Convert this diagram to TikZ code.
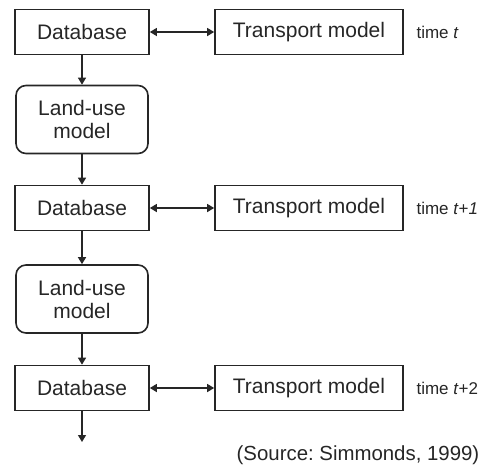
\documentclass[tikz,border=0pt]{standalone}
\usepackage{fontspec}
\setmainfont{Liberation Sans}
\usetikzlibrary{arrows.meta}
\definecolor{ink}{HTML}{262626}
\frenchspacing
\begin{document}
\begin{tikzpicture}[x=1pt,y=-1pt,
  box/.style={draw=ink, line width=1.6pt, text=ink, font=\fontsize{21}{23}\selectfont,
    inner sep=0pt, minimum height=45pt},
  dbbox/.style={box, minimum width=134pt},
  tmbox/.style={box, minimum width=188pt},
  lubox/.style={box, minimum width=132pt, minimum height=68pt, rounded corners=10pt, align=center},
  timelabel/.style={anchor=west, text=ink, font=\fontsize{17}{19}\selectfont},
  link/.style={draw=ink, line width=1.3pt, -{Triangle[length=7pt,width=8pt]}},
  dlink/.style={link, {Triangle[length=7pt,width=8pt]}-{Triangle[length=7pt,width=8pt]}}]
\useasboundingbox (0,0) rectangle (488,466);

% databases and transport models, one row per time step
\node[dbbox] (db1) at (82,32) {Database};
\node[tmbox] (tm1) at (309,32) {Transport model};
\node[timelabel] (t1) at (413,32) {time \textit{t}};

\node[lubox] (lu1) at (82,119.5) {Land-use\\model};

\node[dbbox] (db2) at (82,208) {Database};
\node[tmbox] (tm2) at (309,208) {Transport model};
\node[timelabel] (t2) at (413,208) {time \textit{t}+\textit{1}};

\node[lubox] (lu2) at (82,299) {Land-use\\model};

\node[dbbox] (db3) at (82,388) {Database};
\node[tmbox] (tm3) at (309,388) {Transport model};
\node[timelabel] (t3) at (413,388) {time \textit{t}+2};

\coordinate (next) at (82,442);

% connectors
\draw[dlink] (db1) -- (tm1);
\draw[dlink] (db2) -- (tm2);
\draw[dlink] (db3) -- (tm3);
\draw[link] (db1) -- (lu1);
\draw[link] (lu1) -- (db2);
\draw[link] (db2) -- (lu2);
\draw[link] (lu2) -- (db3);
\draw[link] (db3.south) -- (next);

\node[text=ink, font=\fontsize{20.4}{22}\selectfont] (src) at (358,455) {(Source: Simmonds, 1999)};
\end{tikzpicture}
\end{document}
